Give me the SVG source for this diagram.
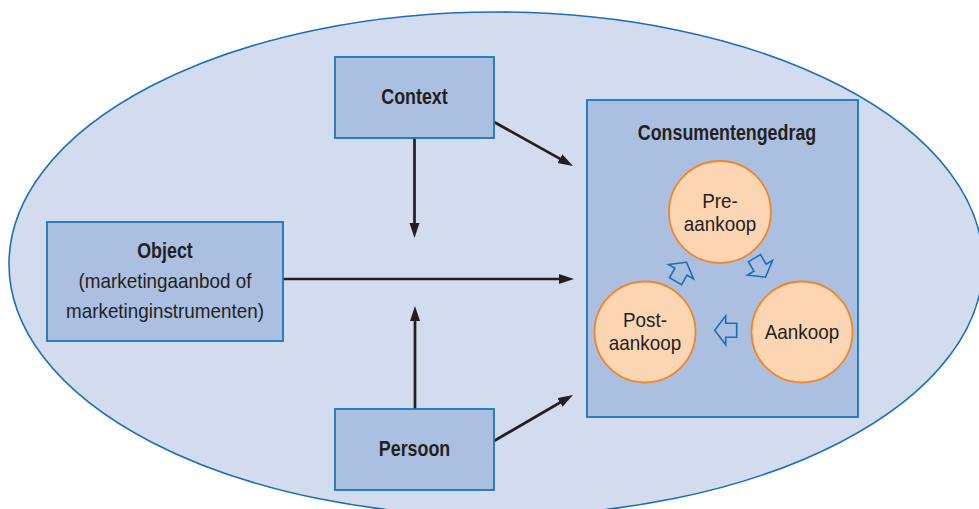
<svg xmlns="http://www.w3.org/2000/svg" width="979" height="509" viewBox="0 0 979 509">
  <style>
    .box { fill: #abbfe0; stroke: #1a75bc; stroke-width: 1.8; }
    .circ { fill: #fcd5b3; stroke: #f0862a; stroke-width: 1.8; }
    .conn { stroke: #231f20; stroke-width: 2.7; fill: none; }
    .bold { font-family: "Liberation Sans", Arial, sans-serif; font-weight: bold; font-size: 21.5px; fill: #231f20; text-anchor: middle; }
    .reg { font-family: "Liberation Sans", Arial, sans-serif; font-size: 20.5px; fill: #231f20; text-anchor: middle; }
    .cyc { fill: #abbfe0; stroke: #1a70b8; stroke-width: 1.6; stroke-linejoin: miter; }
  </style>
  <defs>
    <marker id="ah" markerUnits="userSpaceOnUse" markerWidth="16" markerHeight="11" refX="7" refY="5" orient="auto">
      <path d="M0,0 L15,5 L0,10 Z" fill="#231f20"/>
    </marker>
    <path id="blk" d="M11,0 L0,-14.5 L0,-7 L-11,-7 L-11,7 L0,7 L0,14.5 Z"/>
  </defs>

  <ellipse id="scope" cx="496" cy="264" rx="487" ry="252" fill="#d3dcee" stroke="#1a70b8" stroke-width="1.6"/>

  <g id="connectors">
    <line class="conn" x1="414.5" y1="138" x2="414.5" y2="230" marker-end="url(#ah)"/>
    <line class="conn" x1="415" y1="409" x2="415" y2="314" marker-end="url(#ah)"/>
    <line class="conn" x1="283" y1="279" x2="566" y2="279" marker-end="url(#ah)"/>
    <line class="conn" x1="494" y1="122" x2="566" y2="162.1" marker-end="url(#ah)"/>
    <line class="conn" x1="494" y1="441" x2="566.1" y2="399" marker-end="url(#ah)"/>
  </g>

  <g id="context">
    <rect class="box" x="335" y="57" width="159" height="81"/>
    <text class="bold" transform="translate(414.5,104) scale(0.83,1)">Context</text>
  </g>

  <g id="object">
    <rect class="box" x="47" y="222" width="236" height="119"/>
    <text class="bold" transform="translate(165,258) scale(0.83,1)">Object</text>
    <text class="reg" transform="translate(165,288) scale(0.92,1)">(marketingaanbod of</text>
    <text class="reg" transform="translate(165,318) scale(0.92,1)">marketinginstrumenten)</text>
  </g>

  <g id="persoon">
    <rect class="box" x="335" y="409" width="159" height="81"/>
    <text class="bold" transform="translate(414.5,456) scale(0.83,1)">Persoon</text>
  </g>

  <g id="consumentengedrag">
    <rect class="box" x="587" y="100" width="271" height="317"/>
    <text class="bold" transform="translate(727,140) scale(0.83,1)">Consumentengedrag</text>
  </g>

  <g id="pre-aankoop">
    <circle class="circ" cx="720" cy="212" r="51"/>
    <text class="reg" transform="translate(720,208) scale(0.92,1)">Pre-</text>
    <text class="reg" transform="translate(720,231) scale(0.92,1)">aankoop</text>
  </g>

  <g id="aankoop">
    <circle class="circ" cx="802" cy="332" r="50.5"/>
    <text class="reg" transform="translate(802,339) scale(0.92,1)">Aankoop</text>
  </g>

  <g id="post-aankoop">
    <circle class="circ" cx="645" cy="332" r="50.5"/>
    <text class="reg" transform="translate(645,327) scale(0.92,1)">Post-</text>
    <text class="reg" transform="translate(645,350) scale(0.92,1)">aankoop</text>
  </g>

  <g id="cycle-arrows">
    <use href="#blk" class="cyc" transform="translate(760,267.7) rotate(60)"/>
    <use href="#blk" class="cyc" transform="translate(725.7,330.3) rotate(180)"/>
    <use href="#blk" class="cyc" transform="translate(681,271.7) rotate(-60)"/>
  </g>
</svg>
